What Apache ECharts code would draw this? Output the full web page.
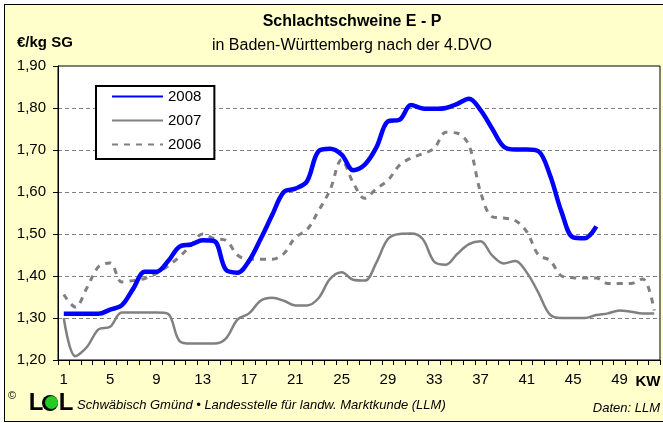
<!DOCTYPE html>
<html>
<head>
<meta charset="utf-8">
<script src="https://cdn.jsdelivr.net/npm/echarts@6/dist/echarts.min.js"></script>
<style>
html,body{margin:0;padding:0;background:#fff;}
#bg{position:absolute;left:4px;top:4px;width:700px;height:416px;background:#ffffcc;border:1px solid #000;}
#chart{position:absolute;left:0;top:0;width:663px;height:423px;}
</style>
</head>
<body>
<div id="bg"></div>
<div id="chart"></div>
<script>
// Kalenderwochen (KW)
const weeks = Array.from({length: 52}, (_, i) => String(i + 1));
// Preise €/kg SG
const y2008 = [1.31,1.31,1.31,1.31,1.32,1.33,1.37,1.41,1.41,1.435,1.47,1.475,1.485,1.483,1.415,1.408,1.436,1.488,1.545,1.60,
  1.608,1.625,1.697,1.703,1.689,1.652,1.665,1.706,1.768,1.772,1.807,1.799,1.798,1.80,1.81,1.822,1.795,1.751,1.708,1.701,
  1.701,1.697,1.64,1.552,1.492,1.49,1.518];
const y2007 = [1.30,1.209,1.231,1.273,1.279,1.313,1.313,1.313,1.313,1.31,1.245,1.239,1.239,1.239,1.251,1.296,1.311,1.341,1.348,1.341,
  1.33,1.33,1.347,1.393,1.409,1.391,1.389,1.432,1.488,1.50,1.501,1.488,1.434,1.427,1.453,1.476,1.483,1.449,1.43,1.436,
  1.408,1.36,1.308,1.30,1.30,1.30,1.307,1.311,1.318,1.315,1.311,1.311];
const y2006 = [1.356,1.326,1.372,1.422,1.431,1.386,1.389,1.394,1.406,1.424,1.446,1.474,1.50,1.489,1.485,1.45,1.44,1.44,1.44,1.453,
  1.492,1.51,1.555,1.605,1.677,1.622,1.585,1.608,1.628,1.664,1.681,1.691,1.704,1.742,1.74,1.711,1.60,1.541,1.538,1.532,
  1.505,1.45,1.437,1.40,1.396,1.395,1.395,1.382,1.382,1.382,1.393,1.318];
const yTicks = ['1,20','1,30','1,40','1,50','1,60','1,70','1,80','1,90'];
const seriesNames = ['2008','2007','2006'];

const FONT = '"Liberation Sans", Arial, sans-serif';
const toPairs = arr => arr.map((v, i) => [i, v]);

const chart = echarts.init(document.getElementById('chart'), null, {renderer: 'canvas'});
chart.setOption({
  animation: false,
  backgroundColor: 'transparent',
  textStyle: {fontFamily: FONT},
  grid: {left: 58, right: 3, top: 66, bottom: 63, show: true, backgroundColor: '#ffffff', borderColor: '#000', borderWidth: 1},
  xAxis: {
    type: 'category',
    data: weeks,
    boundaryGap: true,
    axisLine: {show: true, lineStyle: {color: '#000', width: 1}},
    axisTick: {show: true, interval: 0, length: 5, lineStyle: {color: '#000', width: 1}},
    axisLabel: {interval: 3, color: '#000', fontSize: 15, fontFamily: FONT, margin: 12},
    splitLine: {show: false}
  },
  yAxis: {
    type: 'value',
    min: 1.2, max: 1.9, interval: 0.1,
    axisLine: {show: true, lineStyle: {color: '#000', width: 1}},
    axisTick: {show: true, length: 5, lineStyle: {color: '#000'}},
    axisLabel: {color: '#000', fontSize: 15, fontFamily: FONT, margin: 12,
      formatter: v => yTicks[Math.round((v - 1.2) * 10)] || ''},
    splitLine: {show: true, lineStyle: {color: '#808080', width: 1, type: [4, 3]}}
  },
  legend: {
    data: seriesNames,
    orient: 'vertical',
    left: 96, top: 86,
    backgroundColor: '#ffffff',
    borderColor: '#000', borderWidth: 2, borderRadius: 0,
    padding: [3, 13, 7, 15],
    itemWidth: 51, itemHeight: 14, itemGap: 9,
    itemStyle: {opacity: 0, borderWidth: 0},
    textStyle: {color: '#000', fontSize: 15, fontFamily: FONT}
  },
  series: [
    {name: '2008', type: 'line', data: toPairs(y2008), smooth: 0.35, symbol: 'none', z: 5,
      lineStyle: {color: '#0000ff', width: 4.5}, itemStyle: {color: '#0000ff'}},
    {name: '2007', type: 'line', data: toPairs(y2007), smooth: 0.35, symbol: 'none', z: 4,
      lineStyle: {color: '#808080', width: 2.5}, itemStyle: {color: '#808080'}},
    {name: '2006', type: 'line', data: toPairs(y2006), smooth: 0.35, symbol: 'none', z: 3,
      lineStyle: {color: '#808080', width: 3, type: [6, 6]}, itemStyle: {color: '#808080'}}
  ],
  graphic: {elements: [
    {type: 'text', style: {text: 'Schlachtschweine E - P', font: 'bold 16px ' + FONT, fill: '#000', x: 352, y: 22, textAlign: 'center', textVerticalAlign: 'middle', verticalAlign: 'middle'}},
    {type: 'text', style: {text: 'in Baden-Württemberg nach der 4.DVO', font: '16px ' + FONT, fill: '#000', x: 352, y: 46, textAlign: 'center', textVerticalAlign: 'middle', verticalAlign: 'middle'}},
    {type: 'text', style: {text: '€/kg SG', font: 'bold 15px ' + FONT, fill: '#000', x: 17, y: 43, textAlign: 'left', textVerticalAlign: 'middle', verticalAlign: 'middle'}},
    {type: 'text', style: {text: 'KW', font: 'bold 15px ' + FONT, fill: '#000', x: 648, y: 382, textAlign: 'center', textVerticalAlign: 'middle', verticalAlign: 'middle'}},
    {type: 'text', style: {text: '©', font: '11px ' + FONT, fill: '#000', x: 12, y: 396, textAlign: 'center', textVerticalAlign: 'middle', verticalAlign: 'middle'}},
    {type: 'text', style: {text: 'L', font: 'bold 24px ' + FONT, fill: '#000', x: 36, y: 403, textAlign: 'center', textVerticalAlign: 'middle', verticalAlign: 'middle'}},
    {type: 'circle', shape: {cx: 50, cy: 403, r: 8}, style: {fill: '#000'}},
    {type: 'circle', shape: {cx: 51.5, cy: 402.5, r: 6.5}, style: {fill: '#22cc22'}},
    {type: 'text', style: {text: 'L', font: 'bold 24px ' + FONT, fill: '#000', x: 66, y: 403, textAlign: 'center', textVerticalAlign: 'middle', verticalAlign: 'middle'}},
    {type: 'text', style: {text: 'Schwäbisch Gmünd • Landesstelle für landw. Marktkunde (LLM)', font: 'italic 13px ' + FONT, fill: '#000', x: 77, y: 405, textAlign: 'left', textVerticalAlign: 'middle', verticalAlign: 'middle'}},
    {type: 'text', style: {text: 'Daten: LLM', font: 'italic 13px ' + FONT, fill: '#000', x: 660, y: 408, textAlign: 'right', textVerticalAlign: 'middle', verticalAlign: 'middle'}}
  ]}
});
</script>
</body>
</html>
